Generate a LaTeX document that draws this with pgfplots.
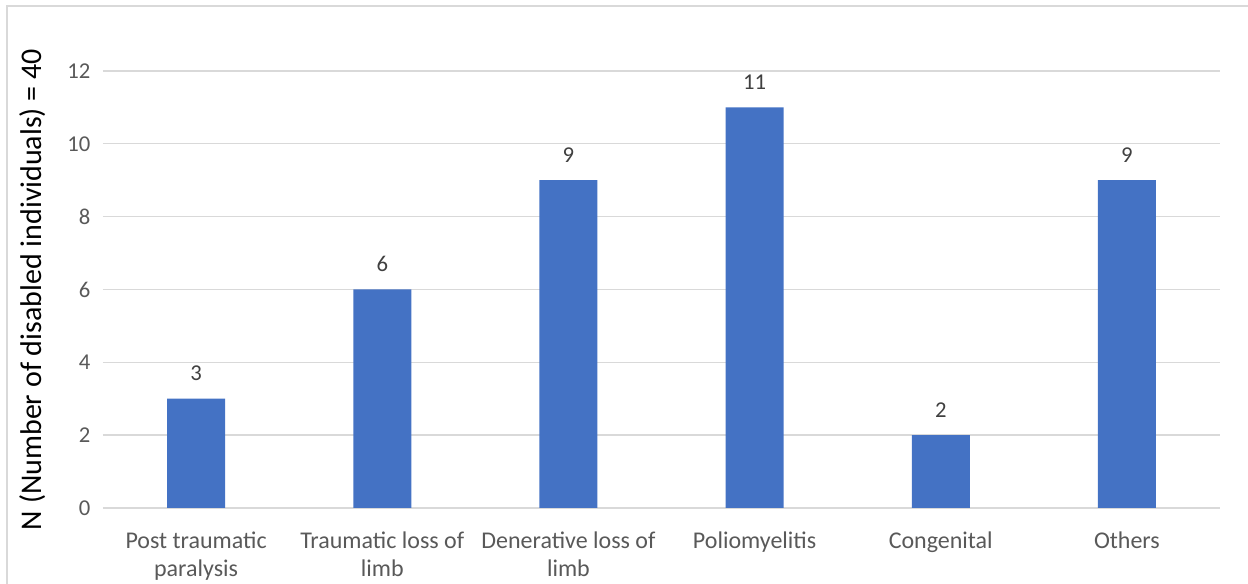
\documentclass[border=0pt]{standalone}
\usepackage{pgfplots}
\pgfplotsset{compat=1.18}
\usepackage{fontspec}
\setmainfont{Carlito}
\definecolor{barblue}{HTML}{4472C4}
\definecolor{gridgray}{HTML}{D9D9D9}
\definecolor{txtgray}{HTML}{595959}
\definecolor{lblgray}{HTML}{404040}
\begin{document}
\begin{tikzpicture}
\useasboundingbox (0,0) rectangle (936pt,438pt);
\draw[gridgray, line width=1.2pt] (5.25pt,0) -- (5.25pt,433.5pt) -- (936pt,433.5pt);
\begin{axis}[
  at={(77.25pt,57pt)}, anchor=south west,
  scale only axis,
  width=837.75pt, height=327.75pt,
  xmin=-0.5, xmax=5.5,
  ymin=0, ymax=12,
  ytick={0,2,...,12},
  xtick=data,
  xticklabels={{Post traumatic\\paralysis},{Traumatic loss of\\limb},{Denerative loss of\\limb},{Poliomyelitis},{Congenital},{Others}},
  xticklabel style={align=center, font=\fontsize{18}{21}\selectfont, text=txtgray, yshift=-14.5pt},
  yticklabel style={font=\fontsize{17}{19}\selectfont, text=txtgray, xshift=-6pt},
  /pgf/number format/assume math mode=true,
  axis x line*=bottom,
  axis y line*=left,
  x axis line style={gridgray, line width=1pt, -},
  y axis line style={draw=none},
  major tick length=0pt,
  ymajorgrids, grid style={gridgray, line width=1pt},
  ybar, bar width=43.5pt,
  nodes near coords,
  every node near coord/.append style={font=\fontsize{17}{19}\selectfont, text=lblgray, yshift=10pt},
  ylabel={N (Number of disabled individuals) = 40},
  every axis y label/.style={at={(ticklabel cs:0.5,9pt)}, rotate=90, anchor=south, font=\fontsize{22.5}{25}\selectfont, text=black},
  clip=false,
]
\addplot[fill=barblue, draw=none] coordinates {(0,3) (1,6) (2,9) (3,11) (4,2) (5,9)};
\end{axis}
\end{tikzpicture}
\end{document}
